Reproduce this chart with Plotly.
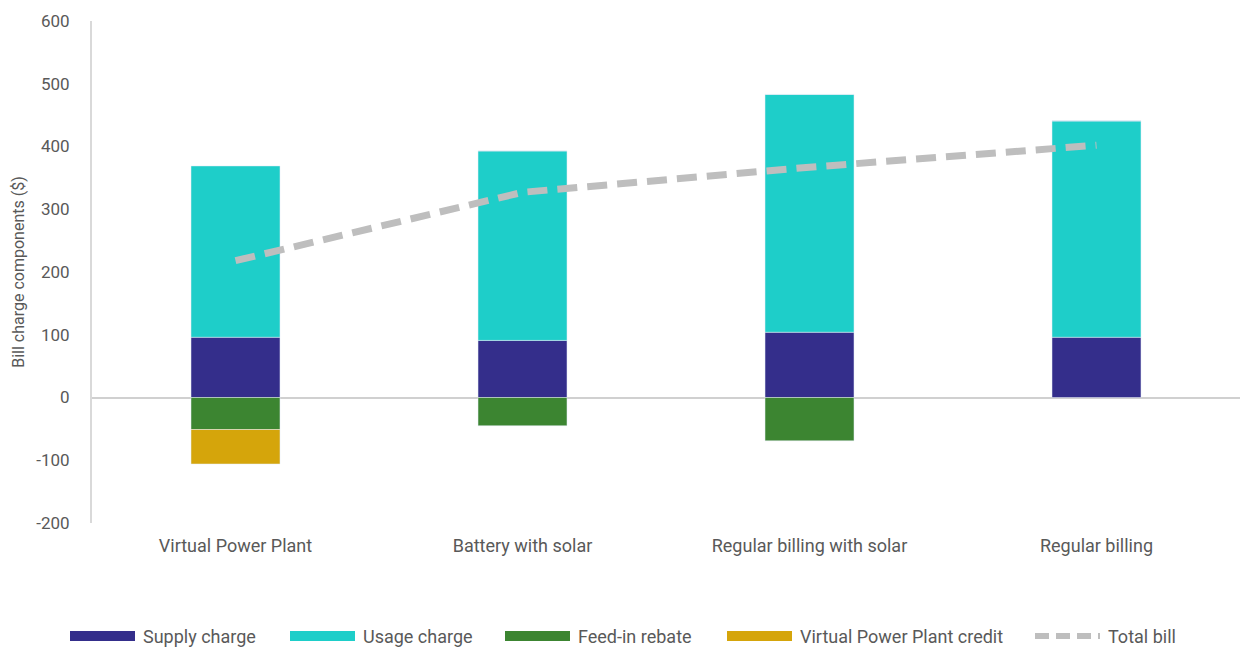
import plotly.graph_objects as go

categories = ["Virtual Power Plant", "Battery with solar", "Regular billing with solar", "Regular billing"]
supply_charge = [96, 91, 104, 96]
usage_charge = [273, 302, 379, 345]
feed_in_rebate = [-51, -45, -69, 0]
vpp_credit = [-55, 0, 0, 0]
total_bill = [218, 327, 367, 402]

y_ticks = [-200, -100, 0, 100, 200, 300, 400, 500, 600]
y_tick_labels = [str(v) for v in y_ticks]

C_SUPPLY = "#342E8B"
C_USAGE = "#1ECEC9"
C_FEED = "#3C8531"
C_VPP = "#D5A50B"
C_TOTAL = "#BEBEBE"
TXT = "#595959"
FONT = "Roboto"

fig = go.Figure()
fig.add_trace(go.Bar(name="Supply charge", x=categories, y=supply_charge, marker_color=C_SUPPLY, showlegend=False))
fig.add_trace(go.Bar(name="Usage charge", x=categories, y=usage_charge, marker_color=C_USAGE, showlegend=False))
fig.add_trace(go.Bar(name="Feed-in rebate", x=categories, y=feed_in_rebate, marker_color=C_FEED, showlegend=False))
fig.add_trace(go.Bar(name="Virtual Power Plant credit", x=categories, y=vpp_credit, marker_color=C_VPP, showlegend=False))
fig.add_trace(go.Scatter(name="Total bill", x=categories, y=total_bill, mode="lines",
                         line=dict(color=C_TOTAL, width=7, dash="20px,10px"), showlegend=False))

W, H = 1240, 648
ML, MR, MT, MB = 92, 0, 21, 125

# custom legend (swatches + labels) in paper coords
legend_items = [
    ("Supply charge", C_SUPPLY, 70, "bar"),
    ("Usage charge", C_USAGE, 290, "bar"),
    ("Feed-in rebate", C_FEED, 505, "bar"),
    ("Virtual Power Plant credit", C_VPP, 727, "bar"),
    ("Total bill", C_TOTAL, 1035, "line"),
]
pw = W - ML - MR
ph = H - MT - MB
def px_x(p):
    return (p - ML) / pw
def px_y(p):
    return (H - MB - p) / ph

shapes = []
annotations = []
ly = 636
for label, color, x0, kind in legend_items:
    if kind == "bar":
        shapes.append(dict(type="rect", xref="paper", yref="paper",
                           x0=px_x(x0), x1=px_x(x0 + 65), y0=px_y(ly + 5), y1=px_y(ly - 5),
                           fillcolor=color, line=dict(width=0)))
    else:
        shapes.append(dict(type="line", xref="paper", yref="paper",
                           x0=px_x(x0), x1=px_x(x0 + 65), y0=px_y(ly), y1=px_y(ly),
                           line=dict(color=color, width=6, dash="14px,7px")))
    annotations.append(dict(text=label, xref="paper", yref="paper", x=px_x(x0 + 71), y=px_y(ly),
                            xanchor="left", yanchor="middle", showarrow=False,
                            font=dict(family=FONT, size=18, color=TXT)))

fig.update_layout(
    width=W, height=H,
    margin=dict(l=ML, r=MR, t=MT, b=MB),
    barmode="relative",
    bargap=0.69,
    plot_bgcolor="white", paper_bgcolor="white",
    font=dict(family=FONT, size=16, color=TXT),
    shapes=shapes,
    annotations=annotations,
    showlegend=False,
    xaxis=dict(showgrid=False, showline=False, ticks="", tickfont=dict(size=18, color=TXT),
               ticklabelstandoff=10),
    yaxis=dict(range=[-200, 600], tickvals=y_ticks, ticktext=y_tick_labels, showgrid=False,
               showline=True, linecolor="#D9D9D9", linewidth=2,
               zeroline=True, zerolinecolor="#D0D0D0", zerolinewidth=2,
               layer="above traces", ticks="", tickfont=dict(size=17, color=TXT),
               ticklabelstandoff=17,
               title=dict(text="Bill charge components ($)", font=dict(size=16, color=TXT), standoff=8)),
)

fig.write_html("out.html")
